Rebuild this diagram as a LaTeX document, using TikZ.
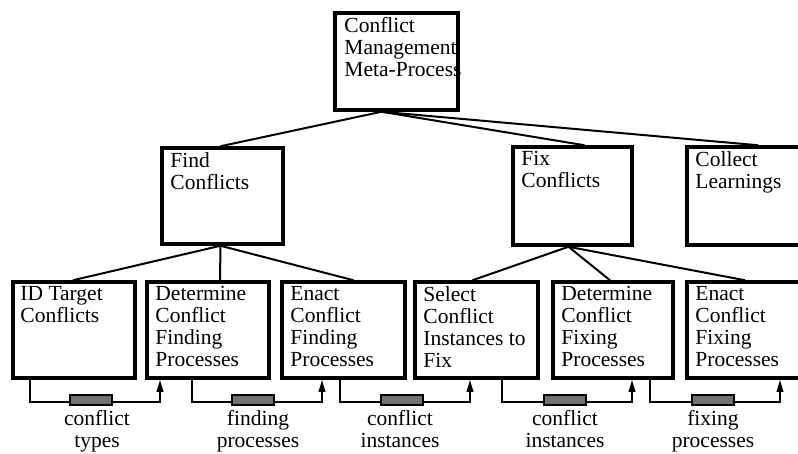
\documentclass[tikz,border=0pt]{standalone}
\usepackage{fontspec}
\setmainfont{Liberation Serif}
\usetikzlibrary{arrows.meta,calc}
\begin{document}
\begin{tikzpicture}[x=1pt,y=-1pt,
  box/.style={draw,line width=3.5pt,inner sep=0pt,fill=white},
  txt/.style={anchor=north west,inner sep=0pt,align=left,font=\fontsize{21.5}{22}\selectfont},
  link/.style={line width=2pt},
  flow/.style={line width=2pt,-{Triangle[length=12pt,width=6.5pt]}},
  store/.style={draw,line width=2pt,fill=black!55,minimum width=42pt,minimum height=10pt,inner sep=0pt},
  lab/.style={anchor=north,inner sep=0pt,align=center,font=\fontsize{21.5}{22}\selectfont}]
\useasboundingbox (0,0) rectangle (798,453);
\clip (0,0) rectangle (798,453);
% boxes
\node[box,minimum width=123pt,minimum height=97pt] (top) at (396.5,61.5) {};
\node[box,minimum width=121pt,minimum height=96pt] (find) at (222.5,196) {};
\node[box,minimum width=119pt,minimum height=98pt] (fix) at (572.5,196) {};
\node[box,minimum width=118pt,minimum height=98pt] (collect) at (746,196) {};
\node[box,minimum width=122pt,minimum height=96pt] (idt) at (74,330) {};
\node[box,minimum width=122pt,minimum height=96pt] (detf) at (208,330) {};
\node[box,minimum width=123pt,minimum height=96pt] (enf) at (343.5,330) {};
\node[box,minimum width=123pt,minimum height=96pt] (sel) at (476.5,330) {};
\node[box,minimum width=120pt,minimum height=96pt] (detx) at (613,330) {};
\node[box,minimum width=118pt,minimum height=96pt] (enx) at (746,330) {};
% texts
\node[txt] (topt) at ([shift={(11,6)}]top.north west) {Conflict\\Management\\Meta-Process};
\node[txt] (findt) at ([shift={(10,6)}]find.north west) {Find\\Conflicts};
\node[txt] (fixt) at ([shift={(10,6)}]fix.north west) {Fix\\Conflicts};
\node[txt] (collectt) at ([shift={(10,6)}]collect.north west) {Collect\\Learnings};
\node[txt] (idtt) at ([shift={(9,6)}]idt.north west) {ID Target\\Conflicts};
\node[txt] (detft) at ([shift={(10,6)}]detf.north west) {Determine\\Conflict\\Finding\\Processes};
\node[txt] (enft) at ([shift={(10,6)}]enf.north west) {Enact\\Conflict\\Finding\\Processes};
\node[txt] (selt) at ([shift={(10,6)}]sel.north west) {Select\\Conflict\\Instances to\\Fix};
\node[txt] (detxt) at ([shift={(10,6)}]detx.north west) {Determine\\Conflict\\Fixing\\Processes};
\node[txt] (enxt) at ([shift={(10,6)}]enx.north west) {Enact\\Conflict\\Fixing\\Processes};
% tree links
\coordinate (topj) at ([xshift=-15pt]top.south);
\coordinate (findj) at ([xshift=-2pt]find.south);
\coordinate (fixj) at ([xshift=-4pt]fix.south);
\draw[link] (topj) -- ([xshift=-2pt]find.north);
\draw[link] (topj) -- ([xshift=12pt]fix.north);
\draw[link] (topj) -- ([xshift=12pt]collect.north);
\draw[link] (findj) -- ([xshift=-1pt]idt.north);
\draw[link] (findj) -- ([xshift=12pt]detf.north);
\draw[link] (findj) -- ([xshift=10pt]enf.north);
\draw[link] (fixj) -- ([xshift=-4pt]sel.north);
\draw[link] (fixj) -- ([xshift=-3pt]detx.north);
\draw[link] (fixj) -- ([xshift=-1pt]enx.north);
% flows
\draw[flow] ([xshift=-44pt]idt.south) -- ++(0,22) -| ([xshift=-48pt]detf.south);
\draw[flow] ([xshift=-16pt]detf.south) -- ++(0,22) -| ([xshift=-21.5pt]enf.south);
\draw[flow] ([xshift=-3.5pt]enf.south) -- ++(0,22) -| ([xshift=-6.5pt]sel.south);
\draw[flow] ([xshift=25.5pt]sel.south) -- ++(0,22) -| ([xshift=19pt]detx.south);
\draw[flow] ([xshift=37pt]detx.south) -- ++(0,22) -| ([xshift=34pt]enx.south);
% stores
\node[store] (s1) at (91,400) {};
\node[store] (s2) at (252.5,400) {};
\node[store] (s3) at (402,400) {};
\node[store] (s4) at (564.5,400) {};
\node[store] (s5) at (713,400) {};
\node[lab] (l1) at (97,410) {conflict\\types};
\node[lab] (l2) at (258,410) {finding\\processes};
\node[lab] (l3) at (400,410) {conflict\\instances};
\node[lab] (l4) at (565,410) {conflict\\instances};
\node[lab] (l5) at (713,410) {fixing\\processes};
\end{tikzpicture}
\end{document}
